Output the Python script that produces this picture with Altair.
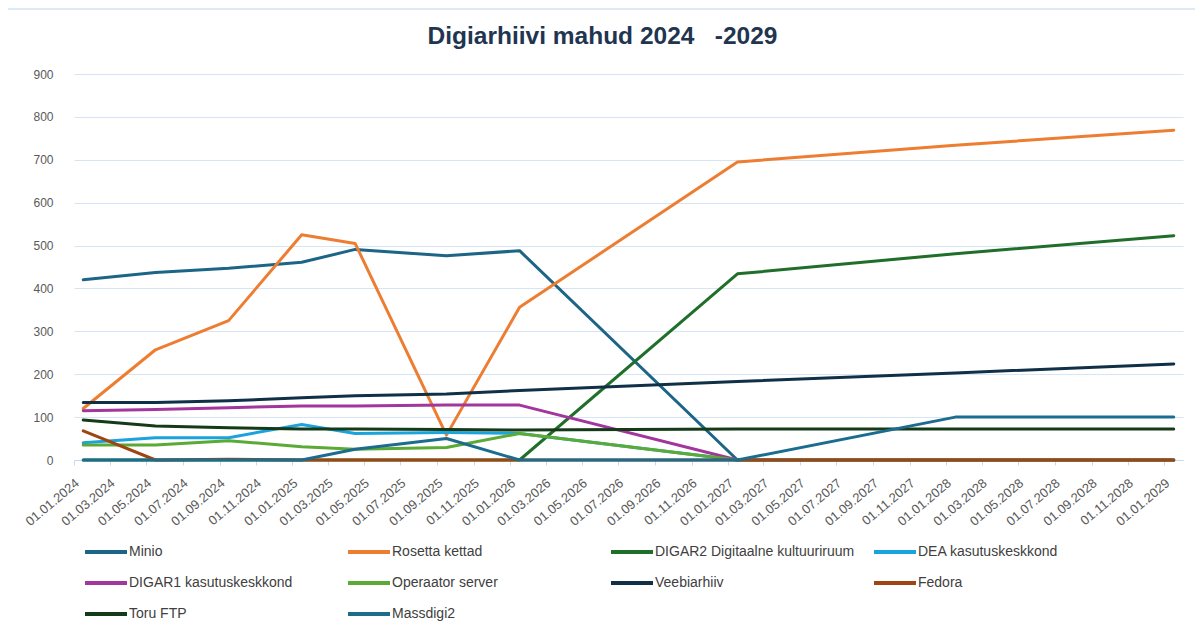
import altair as alt
import pandas as pd

# ---- data ----
dates = ["2024-01-01", "2024-05-01", "2024-09-01", "2025-01-01", "2025-04-01",
         "2025-09-01", "2026-01-01", "2027-01-01", "2028-01-01", "2029-01-01"]

series_names = ["Minio", "Rosetta kettad", "DIGAR2 Digitaalne kultuuriruum",
                "DEA kasutuskeskkond", "DIGAR1 kasutuskeskkond", "Operaator server",
                "Veebiarhiiv", "Fedora", "Toru FTP", "Massdigi2"]

minio      = [420, 437, 447, 461, 491, 476, 488, 0, 0, 0]
rosetta    = [120, 257, 325, 525, 505, 58, 356, 695, 734, 769]
digar2     = [0, 0, 0, 0, 0, 0, 0, 434, 481, 523]
dea        = [40, 52, 52, 83, 62, 64, 62, 0, 0, 0]
digar1     = [115, 118, 122, 126, 126, 128, 128, 0, 0, 0]
operaator  = [35, 35, 45, 31, 25, 29, 62, 0, 0, 0]
veebi      = [134, 134, 138, 145, 150, 154, 162, 183, 203, 224]
fedora     = [68, 0, 2, 0, 0, 0, 0, 0, 0, 0]
toru       = [93, 79, 75, 72, 72, 71, 70, 72, 72, 72]
massdigi2  = [0, 0, 0, 0, 25, 50, 0, 0, 100, 100]

colors = ["#1c6586", "#ed7d31", "#1f6e2a", "#1aa3dc", "#a2369c",
          "#5aaa35", "#0f3047", "#9e4512", "#143a18", "#1b6c8e"]

y_ticks = [0, 100, 200, 300, 400, 500, 600, 700, 800, 900]

all_values = [minio, rosetta, digar2, dea, digar1, operaator, veebi, fedora, toru, massdigi2]

rows = []
for name, vals in zip(series_names, all_values):
    for d, v in zip(dates, vals):
        rows.append({"date": d, "series": name, "value": v})
df = pd.DataFrame(rows)

FONT = "Liberation Sans"

lines = alt.Chart(df).mark_line(strokeWidth=3, strokeCap="round", strokeJoin="round").encode(
    x=alt.X("date:T", timeUnit="yearmonth", bandPosition=0.5,
            scale=alt.Scale(domain=[alt.DateTime(year=2024, month=1, date=1),
                                    alt.DateTime(year=2029, month=2, date=1)], nice=False),
            axis=alt.Axis(title=None, format="%d.%m.%Y", formatType="time",
                          tickCount={"interval": "month", "step": 2},
                          labelAngle=-40, labelAlign="right", labelBaseline="middle",
                          labelFontSize=13, labelColor="#595959", labelFont=FONT,
                          labelPadding=16, labelOffset=3, labelOverlap=False,
                          labelFlush=False,
                          grid=False, domainColor="#c8d9ee", tickColor="#c8d9ee",
                          tickSize=5)),
    y=alt.Y("value:Q", scale=alt.Scale(domain=[0, 900], nice=False),
            axis=alt.Axis(title=None, values=y_ticks, domain=False, ticks=False,
                          labelPadding=21, labelFontSize=12, labelColor="#595959",
                          labelFont=FONT, gridColor="#d6e4f5", gridWidth=1.2)),
    color=alt.Color("series:N", scale=alt.Scale(domain=series_names, range=colors),
                    legend=alt.Legend(title=None, orient="none", legendX=9, legendY=455,
                                      direction="horizontal", columns=4,
                                      symbolType="stroke", symbolSize=1764,
                                      symbolStrokeWidth=4, labelFontSize=14,
                                      labelColor="#404040", labelFont=FONT,
                                      columnPadding=11, rowPadding=0,
                                      gridAlign="all", labelOffset=0, labelLimit=300)),
)

frame = alt.Chart(pd.DataFrame({"a": [0]})).mark_rect(
    fill=None, stroke="#d3e2f3", strokeWidth=1.5
).encode(x=alt.value(-67), x2=alt.value(1140), y=alt.value(-65), y2=alt.value(600))

chart = alt.layer(frame, lines).properties(
    width=1109, height=386,
    title=alt.TitleParams("Digiarhiivi mahud 2024\u00a0\u00a0\u00a0-2029", fontSize=24.5,
                          fontWeight="bold", color="#1f3550", font=FONT,
                          anchor="middle", frame="group", dx=-26, dy=41, offset=0),
    padding={"left": 66, "top": 66, "right": 12, "bottom": 165},
    autosize=alt.AutoSizeParams(type="none"),
).configure_view(stroke=None)

chart.save("out.html", embed_options={"renderer": "svg", "actions": False})
